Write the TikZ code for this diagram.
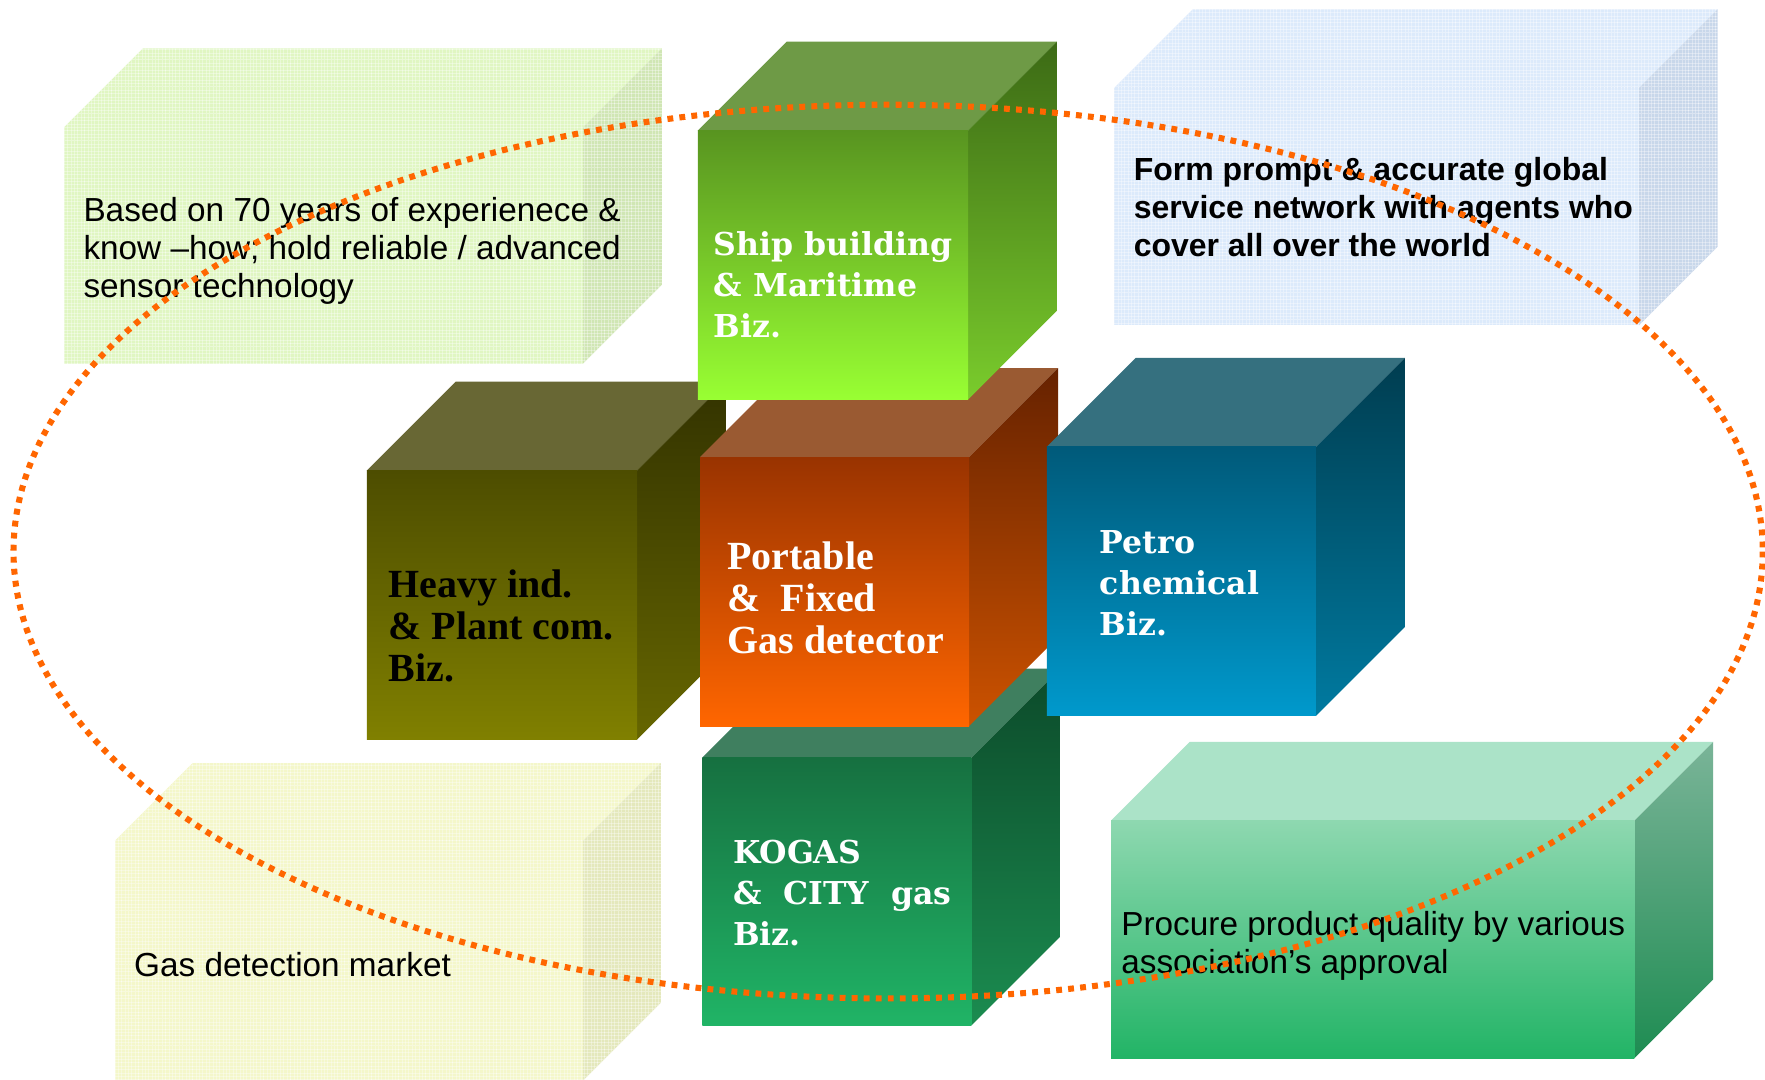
\documentclass[tikz,border=0pt]{standalone}
\usepackage{fontspec}
\setmainfont{Liberation Sans}
\newfontfamily\cubeserif{DejaVu Serif}
\newfontfamily\tallserif{Liberation Serif}
\usetikzlibrary{patterns}

\definecolor{dotorange}{HTML}{FF6600}
% light boxes
\definecolor{lgFront}{HTML}{E0F6C2}\definecolor{lgSide}{HTML}{D0E6B4}
\definecolor{lbFront}{HTML}{DCEAFB}\definecolor{lbSide}{HTML}{C8D7EA}
\definecolor{lyFront}{HTML}{F4F7CA}\definecolor{lySide}{HTML}{E4E8BC}
% ship
\definecolor{shTop}{HTML}{6E9A46}\definecolor{shF1}{HTML}{589420}\definecolor{shF2}{HTML}{99FF33}
\definecolor{shS1}{HTML}{3C6A15}\definecolor{shS2}{HTML}{7ACC2C}
% portable
\definecolor{poTop}{HTML}{9A5A32}\definecolor{poF1}{HTML}{993300}\definecolor{poF2}{HTML}{FF6600}
\definecolor{poS1}{HTML}{662200}\definecolor{poS2}{HTML}{CC5200}
% heavy
\definecolor{heTop}{HTML}{686734}\definecolor{heF1}{HTML}{4D4D00}\definecolor{heF2}{HTML}{808000}
\definecolor{heS1}{HTML}{333300}\definecolor{heS2}{HTML}{666600}
% petro
\definecolor{peTop}{HTML}{35707F}\definecolor{peF1}{HTML}{005A7A}\definecolor{peF2}{HTML}{0099CC}
\definecolor{peS1}{HTML}{003D50}\definecolor{peS2}{HTML}{007AA0}
% kogas
\definecolor{koTop}{HTML}{3F7F5F}\definecolor{koF1}{HTML}{167040}\definecolor{koF2}{HTML}{20B466}
\definecolor{koS1}{HTML}{0C4A2A}\definecolor{koS2}{HTML}{1B8C50}
% procure
\definecolor{prTop}{HTML}{ABE3C8}\definecolor{prF1}{HTML}{8ED8B0}\definecolor{prF2}{HTML}{22B466}
\definecolor{prS1}{HTML}{7AB498}\definecolor{prS2}{HTML}{1E8C52}

% #1 x1, #2 y1, #3 x2, #4 y2 (front face), #5 depth, #6 top style, #7 front style, #8 side style
\newcommand\drawcuboid[8]{%
  \path[#6] (#1,#2) -- (#1+#5,#2-#5) -- (#3+#5,#2-#5) -- (#3,#2) -- cycle;
  \path[#8] (#3,#2) -- (#3+#5,#2-#5) -- (#3+#5,#4-#5) -- (#3,#4) -- cycle;
  \path[#7] (#1,#2) rectangle (#3,#4);
}

\tikzset{
  grid over/.style={postaction={pattern=grid, pattern color=white, opacity=0.35}},
  lighttext/.style={anchor=west, align=left, inner sep=0pt, text=black,
    font=\fontsize{29.6}{34}\selectfont},
  boldlight/.style={anchor=west, align=left, inner sep=0pt, text=black,
    font=\bfseries\fontsize{28.4}{34}\selectfont},
  cubetext/.style={anchor=west, align=left, inner sep=0pt, text=white,
    font=\cubeserif\bfseries\fontsize{28}{36.5}\selectfont},
  talltext/.style={anchor=west, align=left, inner sep=0pt,
    font=\tallserif\bfseries\fontsize{35.5}{37}\selectfont},
  dotring/.style={draw=dotorange, line width=5.4pt, dash pattern=on 5.2pt off 5.5pt},
}

\begin{document}
\begin{tikzpicture}[x=1pt,y=-1pt]
\useasboundingbox (0,0) rectangle (1568,959);
\fill[white] (0,0) rectangle (1568,959);

% light boxes
\drawcuboid{57}{113}{518}{323}{70}{fill=lgFront,grid over}{fill=lgFront,grid over}{fill=lgSide,grid over}
\drawcuboid{990}{78}{1456}{289}{70}{fill=lbFront,grid over}{fill=lbFront,grid over}{fill=lbSide,grid over}
\drawcuboid{102}{747}{518}{960}{69}{fill=lyFront,grid over}{fill=lyFront,grid over}{fill=lySide,grid over}

% procure box
\drawcuboid{987}{729}{1452}{940}{70}{fill=prTop}{top color=prF1,bottom color=prF2}{top color=prS1,bottom color=prS2}

% business cubes
\drawcuboid{624}{673}{863}{911}{79}{fill=koTop}{top color=koF1,bottom color=koF2}{top color=koS1,bottom color=koS2}
\drawcuboid{326}{418}{566}{657}{79}{fill=heTop}{top color=heF1,bottom color=heF2}{top color=heS1,bottom color=heS2}
\drawcuboid{622}{406}{861}{645}{79}{fill=poTop}{top color=poF1,bottom color=poF2}{top color=poS1,bottom color=poS2}
\drawcuboid{930}{397}{1169}{636}{79}{fill=peTop}{top color=peF1,bottom color=peF2}{top color=peS1,bottom color=peS2}
\drawcuboid{620}{116}{860}{355}{79}{fill=shTop}{top color=shF1,bottom color=shF2}{top color=shS1,bottom color=shS2}

% texts
\node[lighttext] (know) at (74,223) {Based on 70 years of experienece \&\\know –how; hold reliable / advanced\\sensor technology};
\node[boldlight] (net) at (1007,184) {Form prompt \& accurate global\\service network with agents who\\cover all over the world};
\node[lighttext] (market) at (119,857) {Gas detection market};
\node[lighttext] (qual) at (996,840) {Procure product quality by various\\association’s approval};

\node[cubetext] (ship) at (634,253) {Ship building\\\& Maritime\\Biz.};
\node[talltext, text=black] (heavy) at (345,556) {Heavy ind.\\\& Plant com.\\Biz.};
\node[talltext, text=white] (port) at (646,531) {Portable\\\&\ \ Fixed\\Gas detector};
\node[cubetext] (petro) at (977,518) {Petro\\chemical\\Biz.};
\node[cubetext] (kogas) at (651,793) {KOGAS\\\&\ \ CITY\ \ gas\\Biz.};

% dotted ring
\coordinate (ringc) at (789,490);
\draw[dotring] (ringc) ellipse [x radius=777, y radius=397];
\end{tikzpicture}
\end{document}
